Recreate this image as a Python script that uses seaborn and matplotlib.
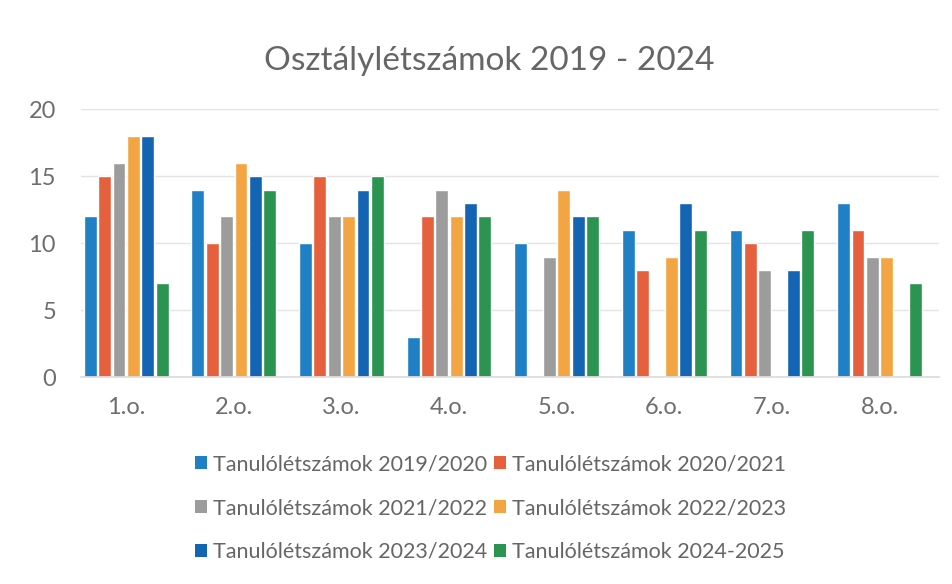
import matplotlib
matplotlib.use("Agg")
import matplotlib.pyplot as plt
import seaborn as sns
import pandas as pd
from matplotlib.patches import Patch

categories = ["1.o.", "2.o.", "3.o.", "4.o.", "5.o.", "6.o.", "7.o.", "8.o."]
series_names = [
    "Tanulólétszámok 2019/2020",
    "Tanulólétszámok 2020/2021",
    "Tanulólétszámok 2021/2022",
    "Tanulólétszámok 2022/2023",
    "Tanulólétszámok 2023/2024",
    "Tanulólétszámok 2024-2025",
]
s2019 = [12, 14, 10, 3, 10, 11, 11, 13]
s2020 = [15, 10, 15, 12, 0, 8, 10, 11]
s2021 = [16, 12, 12, 14, 9, 0, 8, 9]
s2022 = [18, 16, 12, 12, 14, 9, 0, 9]
s2023 = [18, 15, 14, 13, 12, 13, 8, 0]
s2024 = [7, 14, 15, 12, 12, 11, 11, 7]
colors = ["#1f80c6", "#e5603d", "#9c9c9c", "#f4a543", "#1464b4", "#2a9450"]

rows = []
for name, vals in zip(series_names, [s2019, s2020, s2021, s2022, s2023, s2024]):
    for c, v in zip(categories, vals):
        rows.append({"cat": c, "series": name, "value": v})
df = pd.DataFrame(rows)

sns.set_theme(style="white")
plt.rcParams["font.family"] = ["Lato", "DejaVu Sans"]

fig = plt.figure(figsize=(9.53, 5.84), dpi=100)
ax = fig.add_axes([0.085, 0.354, 0.900, 0.459])

sns.barplot(data=df, x="cat", y="value", hue="series", order=categories,
            hue_order=series_names, palette=colors, width=0.8, gap=0.1,
            saturation=1, legend=False, ax=ax)

ax.set_ylim(0, 20)
ax.set_yticks([0, 5, 10, 15, 20])
ax.yaxis.grid(True, color="#e4e4e4", linewidth=1)
ax.set_axisbelow(True)
for s in ["top", "right", "left"]:
    ax.spines[s].set_visible(False)
ax.spines["bottom"].set_color("#dddddd")
ax.set_xlabel("")
ax.set_ylabel("")
ax.tick_params(axis="both", length=0, labelsize=17, colors="#6e6e6e")
ax.tick_params(axis="x", pad=14)
ax.tick_params(axis="y", pad=18)
ax.set_xlim(-0.42, 7.55)

fig.text(0.513, 0.895, "Osztálylétszámok 2019 - 2024", ha="center", va="center",
         fontsize=24, color="#666666")

order = [0, 2, 4, 1, 3, 5]
handles = [Patch(facecolor=colors[i], edgecolor="none") for i in order]
labels = [series_names[i] for i in order]
leg = fig.legend(handles, labels, ncol=2, loc="upper center",
                 bbox_to_anchor=(0.515, 0.255), frameon=False,
                 fontsize=15.5, labelspacing=1.1, columnspacing=0.3,
                 handlelength=0.55, handleheight=0.55, handletextpad=0.3)
for t in leg.get_texts():
    t.set_color("#666666")

fig.savefig("out.png", dpi=100)
